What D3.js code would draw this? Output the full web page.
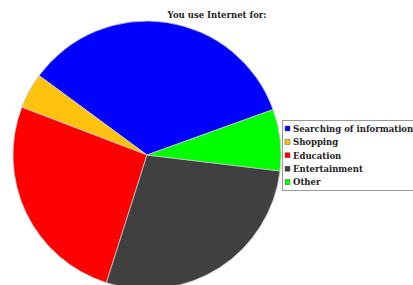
<!DOCTYPE html>
<html>
<head>
<meta charset="utf-8">
<script src="https://cdn.jsdelivr.net/npm/d3@7"></script>
<style>
  body { margin: 0; background: #fff; }
  svg { display: block; }
</style>
</head>
<body>
<div id="chart"></div>
<script>
// Data
var categories = ['Searching of information', 'Shopping', 'Education', 'Entertainment', 'Other']
var values = [34.4, 4.3, 25.9, 28.0, 7.4]
var colors = ['#0000ff', '#ffc20e', '#ff0000', '#404040', '#00ff00']
var title = 'You use Internet for:'

var width = 413
var height = 285

var svg = d3.select('#chart')
  .append('svg')
  .attr('width', width)
  .attr('height', height)

var cx = 147
var cy = 155
var radius = 134

// slices run counter-clockwise, first one ending ~70deg from 12 o'clock
var start = 70.2 * Math.PI / 180
var pie = d3.pie()
  .sort(null)
  .startAngle(start)
  .endAngle(start - 2 * Math.PI)

var arc = d3.arc()
  .innerRadius(0)
  .outerRadius(radius)

var color = d3.scaleOrdinal()
  .domain(categories)
  .range(colors)

var data = categories.map(function (c, i) { return { name: c, value: values[i] } })

svg.append('g')
  .attr('transform', `translate(${cx},${cy})`)
  .selectAll('path')
  .data(pie.value(function (d) { return d.value })(data))
  .enter()
  .append('path')
  .attr('d', arc)
  .attr('fill', function (d) { return color(d.data.name) })
  .attr('stroke', '#c8c8c8')
  .attr('stroke-width', 0.8)

var font = '"DejaVu Serif", serif'

// title
svg.append('text')
  .attr('x', 217)
  .attr('y', 18)
  .attr('text-anchor', 'middle')
  .style('font-family', font)
  .style('font-weight', 'bold')
  .style('font-size', '8.5px')
  .style('fill', '#222')
  .text(title)

// legend
var legend = svg.append('g')
  .attr('transform', 'translate(282,120)')

legend.append('rect')
  .attr('x', 0.5)
  .attr('y', 0.5)
  .attr('width', 140)
  .attr('height', 70)
  .attr('fill', '#fff')
  .attr('stroke', '#999')

var rows = legend.selectAll('g.row')
  .data(categories)
  .enter()
  .append('g')
  .attr('class', 'row')
  .attr('transform', function (d, i) { return `translate(3,${8.5 + i * 13.4})` })

rows.append('rect')
  .attr('x', 0)
  .attr('y', -2.5)
  .attr('width', 5)
  .attr('height', 5)
  .attr('fill', function (d) { return color(d) })
  .attr('stroke', '#555')
  .attr('stroke-width', 0.5)

rows.append('text')
  .attr('x', 8)
  .attr('y', 3.3)
  .style('font-family', font)
  .style('font-weight', 'bold')
  .style('font-size', '8.5px')
  .style('fill', '#222')
  .text(function (d) { return d })
</script>
</body>
</html>
